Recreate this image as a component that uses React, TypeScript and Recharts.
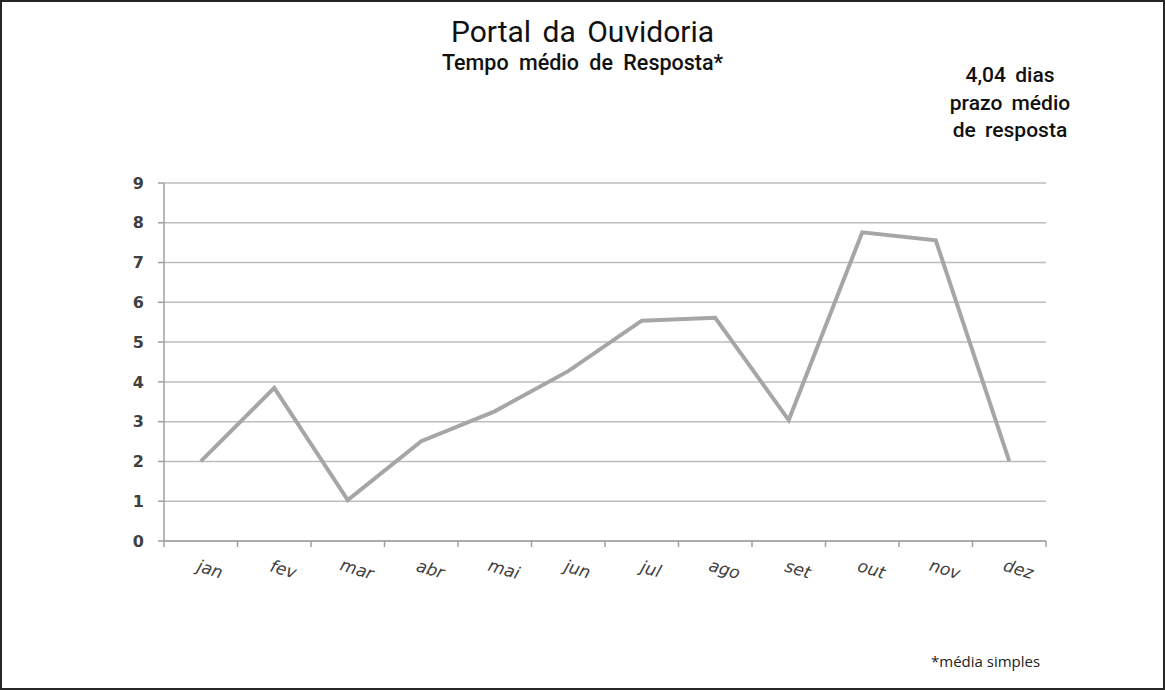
import { LineChart, Line, XAxis, YAxis, CartesianGrid } from "recharts";

const months = ["jan", "fev", "mar", "abr", "mai", "jun", "jul", "ago", "set", "out", "nov", "dez"];
const tempoMedio = [2.0, 3.85, 1.03, 2.51, 3.26, 4.27, 5.54, 5.61, 3.04, 7.76, 7.56, 2.01];
const yTicks = [0, 1, 2, 3, 4, 5, 6, 7, 8, 9];

const data = months.map((m, i) => ({ mes: m, dias: tempoMedio[i] }));

const W = 1165;
const H = 690;
const margin = { top: 183, right: 119, left: 100, bottom: 99 };
const yAxisW = 64;
const plotW = W - margin.left - margin.right - yAxisW;
const half = plotW / months.length / 2;

const MonthTick = ({ x, y, payload, index }: any) => {
  const tx = x + 9;
  const ty = y + 26;
  return (
    <g>
      <line x1={x - half} y1={y - 8} x2={x - half} y2={y - 2} stroke="#a0a0a0" strokeWidth={1.5} />
      {index === months.length - 1 && (
        <line x1={x + half} y1={y - 8} x2={x + half} y2={y - 2} stroke="#a0a0a0" strokeWidth={1.5} />
      )}
      <text
        x={tx}
        y={ty}
        textAnchor="middle"
        fontFamily="DejaVu Sans"
        fontStyle="italic"
        fontSize={17}
        fill="#404040"
        transform={`rotate(17, ${tx}, ${ty - 5})`}
      >
        {payload.value}
      </text>
    </g>
  );
};

export default function App() {
  return (
    <div style={{ position: "absolute", left: 0, top: 0, width: W, height: H, background: "#fff" }}>
      <style>{`body{margin:0}`}</style>
      <div style={{
        position: "absolute", left: 0, top: 0, width: W, height: H,
        boxSizing: "border-box", border: "2px solid #262626"
      }} />
      <div style={{
        position: "absolute", left: 0, top: 14, width: W, textAlign: "center",
        fontFamily: "Roboto, sans-serif", fontSize: 30, color: "#111", wordSpacing: 4
      }}>
        Portal da Ouvidoria
      </div>
      <div style={{
        position: "absolute", left: 442, top: 50, whiteSpace: "nowrap",
        fontFamily: "Roboto, sans-serif", fontSize: 21.5, fontWeight: 500, color: "#111", wordSpacing: 5
      }}>
        Tempo médio de Resposta*
      </div>
      <div style={{
        position: "absolute", left: 930, top: 62, width: 160, textAlign: "center",
        fontFamily: "Roboto, sans-serif", fontSize: 21, fontWeight: 500, color: "#111",
        lineHeight: "27.5px", wordSpacing: 4
      }}>
        4,04 dias<br />prazo médio<br />de resposta
      </div>
      <div style={{
        position: "absolute", left: 931, top: 651, whiteSpace: "nowrap",
        fontFamily: "Open Sans, sans-serif", fontSize: 15, color: "#222"
      }}>
        *média simples
      </div>
      <div style={{ position: "absolute", left: 0, top: 0 }}>
        <LineChart width={W} height={H} data={data} margin={margin}>
          <CartesianGrid vertical={false} stroke="#bdbdbd" strokeWidth={1.5} />
          <XAxis
            dataKey="mes"
            tick={<MonthTick />}
            tickLine={false}
            axisLine={{ stroke: "#a0a0a0", strokeWidth: 1.5 }}
            padding={{ left: half, right: half }}
            height={50}
            interval={0}
          />
          <YAxis
            domain={[0, 9]}
            ticks={yTicks}
            width={yAxisW}
            tickSize={6}
            tickMargin={14}
            axisLine={{ stroke: "#a0a0a0", strokeWidth: 1.5 }}
            tickLine={{ stroke: "#a0a0a0", strokeWidth: 1.5 }}
            tick={{ fontFamily: "DejaVu Sans", fontWeight: "bold", fontSize: 16, fill: "#404040" }}
          />
          <Line
            type="linear"
            dataKey="dias"
            stroke="#a6a6a6"
            strokeWidth={4}
            dot={false}
            activeDot={false}
            isAnimationActive={false}
          />
        </LineChart>
      </div>
    </div>
  );
}
